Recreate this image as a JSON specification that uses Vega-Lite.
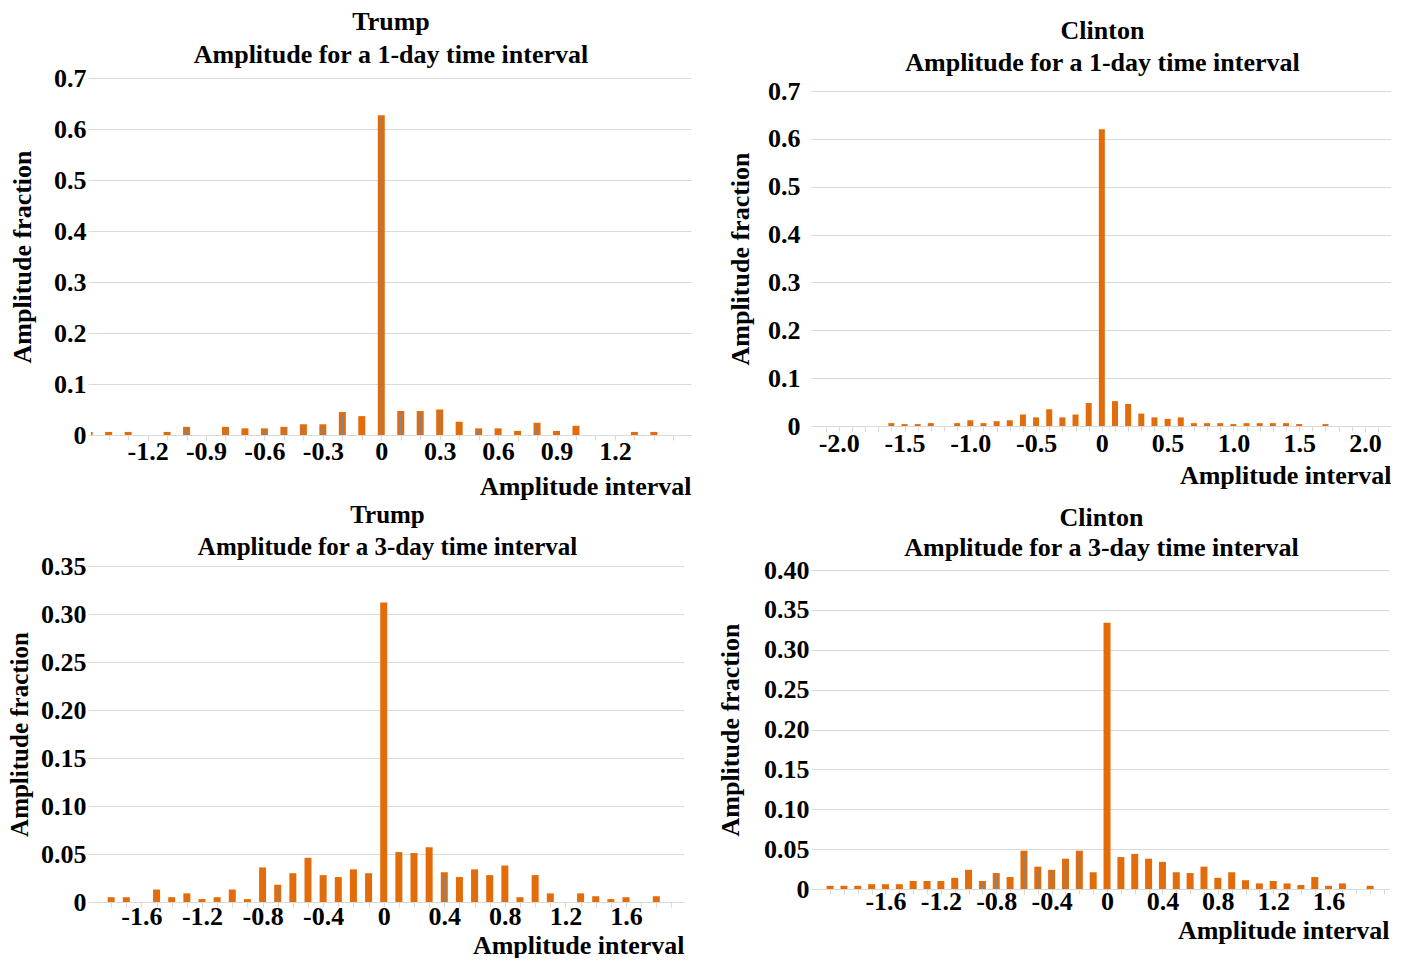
{
  "$schema": "https://vega.github.io/schema/vega-lite/v6.json",
  "background": "white",
  "padding": {"left": 7, "top": 0, "right": 0, "bottom": 0},
  "config": {
    "font": "Liberation Serif",
    "view": {"stroke": null},
    "title": {"font": "Liberation Serif", "fontSize": 26, "fontWeight": "bold", "color": "black", "subtitleFont": "Liberation Serif", "subtitleFontSize": 26, "subtitleFontWeight": "bold", "subtitleColor": "black", "anchor": "middle", "subtitlePadding": 6},
    "axis": {"labelFont": "Liberation Serif", "labelFontSize": 26, "labelFontWeight": "bold", "labelColor": "black", "titleFont": "Liberation Serif", "titleFontSize": 26, "titleFontWeight": "bold", "titleColor": "black", "gridColor": "#d9d9d9", "domainColor": "#d9d9d9", "tickColor": "#d9d9d9", "labelOverlap": false},
    "axisY": {"grid": true, "domain": false, "ticks": true, "tickSize": 3, "labelPadding": 2},
    "axisX": {"grid": false, "domain": true, "ticks": true, "tickSize": 5, "titleAnchor": "end"},
    "bar": {"color": "#E36C0A"}
  },
  "datasets": {
    "t1": [
      {"x": -1.5, "y": 0.006}, {"x": -1.4, "y": 0.006}, {"x": -1.3, "y": 0.006}, {"x": -1.1, "y": 0.006},
      {"x": -1.0, "y": 0.016, "s2": 0.012}, {"x": -0.8, "y": 0.016, "s2": 0.012}, {"x": -0.7, "y": 0.013}, {"x": -0.6, "y": 0.013, "s2": 0.009},
      {"x": -0.5, "y": 0.016, "s2": 0.012}, {"x": -0.4, "y": 0.021, "s2": 0.016}, {"x": -0.3, "y": 0.021, "s2": 0.016}, {"x": -0.2, "y": 0.045, "s2": 0.04},
      {"x": -0.1, "y": 0.037}, {"x": 0.0, "y": 0.627, "s2": 0.625}, {"x": 0.1, "y": 0.047, "s2": 0.042}, {"x": 0.2, "y": 0.047, "s2": 0.042},
      {"x": 0.3, "y": 0.05, "s2": 0.045}, {"x": 0.4, "y": 0.026}, {"x": 0.5, "y": 0.013, "s2": 0.009}, {"x": 0.6, "y": 0.013},
      {"x": 0.7, "y": 0.008}, {"x": 0.8, "y": 0.024, "s2": 0.02}, {"x": 0.9, "y": 0.008}, {"x": 1.0, "y": 0.018},
      {"x": 1.3, "y": 0.006}, {"x": 1.4, "y": 0.006}
    ],
    "c1": [
      {"x": -1.6, "y": 0.006}, {"x": -1.5, "y": 0.004}, {"x": -1.4, "y": 0.004}, {"x": -1.3, "y": 0.006},
      {"x": -1.1, "y": 0.006}, {"x": -1.0, "y": 0.012}, {"x": -0.9, "y": 0.006}, {"x": -0.8, "y": 0.01},
      {"x": -0.7, "y": 0.012}, {"x": -0.6, "y": 0.024}, {"x": -0.5, "y": 0.018}, {"x": -0.4, "y": 0.035},
      {"x": -0.3, "y": 0.018}, {"x": -0.2, "y": 0.024}, {"x": -0.1, "y": 0.048}, {"x": 0.0, "y": 0.62},
      {"x": 0.1, "y": 0.052}, {"x": 0.2, "y": 0.046}, {"x": 0.3, "y": 0.026}, {"x": 0.4, "y": 0.018},
      {"x": 0.5, "y": 0.015}, {"x": 0.6, "y": 0.018}, {"x": 0.7, "y": 0.006}, {"x": 0.8, "y": 0.006},
      {"x": 0.9, "y": 0.006}, {"x": 1.0, "y": 0.004}, {"x": 1.1, "y": 0.006}, {"x": 1.2, "y": 0.006},
      {"x": 1.3, "y": 0.006}, {"x": 1.4, "y": 0.006}, {"x": 1.5, "y": 0.004}, {"x": 1.7, "y": 0.004}
    ],
    "t3": [
      {"x": -1.8, "y": 0.005}, {"x": -1.7, "y": 0.005}, {"x": -1.5, "y": 0.013}, {"x": -1.4, "y": 0.005},
      {"x": -1.3, "y": 0.009}, {"x": -1.2, "y": 0.003}, {"x": -1.1, "y": 0.005}, {"x": -1.0, "y": 0.013},
      {"x": -0.9, "y": 0.003}, {"x": -0.8, "y": 0.036}, {"x": -0.7, "y": 0.018, "s2": 0.015}, {"x": -0.6, "y": 0.03},
      {"x": -0.5, "y": 0.046}, {"x": -0.4, "y": 0.028}, {"x": -0.3, "y": 0.026}, {"x": -0.2, "y": 0.034},
      {"x": -0.1, "y": 0.03}, {"x": 0.0, "y": 0.312}, {"x": 0.1, "y": 0.052}, {"x": 0.2, "y": 0.051},
      {"x": 0.3, "y": 0.057}, {"x": 0.4, "y": 0.031, "s2": 0.027}, {"x": 0.5, "y": 0.026}, {"x": 0.6, "y": 0.034},
      {"x": 0.7, "y": 0.028}, {"x": 0.8, "y": 0.038}, {"x": 0.9, "y": 0.005}, {"x": 1.0, "y": 0.028},
      {"x": 1.1, "y": 0.009}, {"x": 1.3, "y": 0.009}, {"x": 1.4, "y": 0.006}, {"x": 1.5, "y": 0.003},
      {"x": 1.6, "y": 0.005}, {"x": 1.8, "y": 0.006}
    ],
    "c3": [
      {"x": -2.0, "y": 0.004}, {"x": -1.9, "y": 0.004}, {"x": -1.8, "y": 0.004}, {"x": -1.7, "y": 0.006},
      {"x": -1.6, "y": 0.006}, {"x": -1.5, "y": 0.006}, {"x": -1.4, "y": 0.01}, {"x": -1.3, "y": 0.01},
      {"x": -1.2, "y": 0.01}, {"x": -1.1, "y": 0.014}, {"x": -1.0, "y": 0.024}, {"x": -0.9, "y": 0.01, "s2": 0.008},
      {"x": -0.8, "y": 0.02, "s2": 0.017}, {"x": -0.7, "y": 0.015}, {"x": -0.6, "y": 0.048, "s2": 0.045}, {"x": -0.5, "y": 0.028, "s2": 0.025},
      {"x": -0.4, "y": 0.024, "s2": 0.021}, {"x": -0.3, "y": 0.038, "s2": 0.035}, {"x": -0.2, "y": 0.048, "s2": 0.045}, {"x": -0.1, "y": 0.021},
      {"x": 0.0, "y": 0.334}, {"x": 0.1, "y": 0.04}, {"x": 0.2, "y": 0.044}, {"x": 0.3, "y": 0.038},
      {"x": 0.4, "y": 0.034}, {"x": 0.5, "y": 0.021}, {"x": 0.6, "y": 0.02}, {"x": 0.7, "y": 0.028},
      {"x": 0.8, "y": 0.014}, {"x": 0.9, "y": 0.021}, {"x": 1.0, "y": 0.011}, {"x": 1.1, "y": 0.007},
      {"x": 1.2, "y": 0.01}, {"x": 1.3, "y": 0.007}, {"x": 1.4, "y": 0.005}, {"x": 1.5, "y": 0.015},
      {"x": 1.6, "y": 0.004}, {"x": 1.7, "y": 0.007}, {"x": 1.9, "y": 0.004}
    ]
  },
  "hconcat": [
    {
      "spacing": 4,
      "vconcat": [
        {"data": {"values": []}, "width": 10, "height": 5, "mark": "point", "encoding": {}},
        {
          "title": {"text": "Trump", "subtitle": "Amplitude for a 1-day time interval", "offset": -3, "subtitlePadding": 7},
          "data": {"name": "t1"},
          "width": 600, "height": 357,
          "encoding": {
            "x": {"field": "x", "type": "quantitative", "scale": {"domain": [-1.465, 1.565], "nice": false, "zero": false},
                  "axis": {"title": "Amplitude interval", "values": [-1.4,-1.3,-1.2,-1.1,-1.0,-0.9,-0.8,-0.7,-0.6,-0.5,-0.4,-0.3,-0.2,-0.1,0,0.1,0.2,0.3,0.4,0.5,0.6,0.7,0.8,0.9,1.0,1.1,1.2,1.3,1.4,1.5],
                           "labelExpr": "abs(round(datum.value*10)) % 3 == 0 && abs(datum.value) < 1.3 ? (datum.value == 0 ? '0' : (datum.value < 0 ? '-' : '') + format(abs(datum.value), '.1f')) : ''",
                           "labelPadding": -2, "titlePadding": 9}}
          },
          "layer": [
            {
              "mark": {"type": "bar", "size": 7, "clip": true},
              "encoding": {
                "y": {"field": "y", "type": "quantitative", "scale": {"domain": [0, 0.7], "nice": false},
                      "axis": {"title": "Amplitude fraction", "values": [0,0.1,0.2,0.3,0.4,0.5,0.6,0.7], "labelExpr": "datum.value == 0 ? '0' : format(datum.value, '.1f')", "titlePadding": 18}}
              }
            },
            {
              "transform": [{"filter": "isValid(datum.s2)"}],
              "mark": {"type": "bar", "size": 1.5, "color": "#7a8794", "clip": true},
              "encoding": {
                "y": {"field": "s2", "type": "quantitative", "scale": {"domain": [0, 0.7], "nice": false},
                      "axis": {"title": "Amplitude fraction", "values": [0,0.1,0.2,0.3,0.4,0.5,0.6,0.7], "labelExpr": "datum.value == 0 ? '0' : format(datum.value, '.1f')", "titlePadding": 18}}
              }
            }
          ]
        },
        {
          "title": {"text": "Trump", "subtitle": "Amplitude for a 3-day time interval", "offset": -7, "subtitlePadding": 7, "fontSize": 25, "subtitleFontSize": 25},
          "data": {"name": "t3"},
          "width": 593, "height": 336,
          "encoding": {
            "x": {"field": "x", "type": "quantitative", "scale": {"domain": [-1.9, 1.95], "nice": false, "zero": false},
                  "axis": {"title": "Amplitude interval", "values": [-1.8,-1.7,-1.6,-1.5,-1.4,-1.3,-1.2,-1.1,-1.0,-0.9,-0.8,-0.7,-0.6,-0.5,-0.4,-0.3,-0.2,-0.1,0,0.1,0.2,0.3,0.4,0.5,0.6,0.7,0.8,0.9,1.0,1.1,1.2,1.3,1.4,1.5,1.6,1.7,1.8,1.9],
                           "labelExpr": "abs(round(datum.value*10)) % 4 == 0 && abs(datum.value) < 1.7 ? (datum.value == 0 ? '0' : (datum.value < 0 ? '-' : '') + format(abs(datum.value), '.1f')) : ''",
                           "labelPadding": -4, "titlePadding": 3}}
          },
          "layer": [
            {
              "mark": {"type": "bar", "size": 7, "clip": true},
              "encoding": {
                "y": {"field": "y", "type": "quantitative", "scale": {"domain": [0, 0.35], "nice": false},
                      "axis": {"title": "Amplitude fraction", "values": [0,0.05,0.1,0.15,0.2,0.25,0.3,0.35], "labelExpr": "datum.value == 0 ? '0' : format(datum.value, '.2f')", "titlePadding": 8, "titleFontSize": 25}}
              }
            },
            {
              "transform": [{"filter": "isValid(datum.s2)"}],
              "mark": {"type": "bar", "size": 1.5, "color": "#7a8794", "clip": true},
              "encoding": {
                "y": {"field": "s2", "type": "quantitative", "scale": {"domain": [0, 0.35], "nice": false},
                      "axis": {"title": "Amplitude fraction", "values": [0,0.05,0.1,0.15,0.2,0.25,0.3,0.35], "labelExpr": "datum.value == 0 ? '0' : format(datum.value, '.2f')", "titlePadding": 8, "titleFontSize": 25}}
              }
            }
          ]
        }
      ]
    },
    {
      "spacing": 17,
      "vconcat": [
        {"data": {"values": []}, "width": 10, "height": 1, "mark": "point", "encoding": {}},
        {
          "title": {"text": "Clinton", "subtitle": "Amplitude for a 1-day time interval", "offset": 2},
          "data": {"name": "c1"},
          "width": 577, "height": 335,
          "mark": {"type": "bar", "size": 6, "clip": true},
          "encoding": {
            "x": {"field": "x", "type": "quantitative", "scale": {"domain": [-2.15, 2.16], "nice": false, "zero": false},
                  "axis": {"title": "Amplitude interval", "values": [-2.1,-2.0,-1.9,-1.8,-1.7,-1.6,-1.5,-1.4,-1.3,-1.2,-1.1,-1.0,-0.9,-0.8,-0.7,-0.6,-0.5,-0.4,-0.3,-0.2,-0.1,0,0.1,0.2,0.3,0.4,0.5,0.6,0.7,0.8,0.9,1.0,1.1,1.2,1.3,1.4,1.5,1.6,1.7,1.8,1.9,2.0,2.1],
                           "labelExpr": "abs(round(datum.value*10)) % 5 == 0 && abs(datum.value) < 2.05 ? (datum.value == 0 ? '0' : (datum.value < 0 ? '-' : '') + format(abs(datum.value), '.1f')) : ''",
                           "labelPadding": -1, "titlePadding": 6}},
            "y": {"field": "y", "type": "quantitative", "scale": {"domain": [0, 0.7], "nice": false},
                  "axis": {"title": "Amplitude fraction", "values": [0,0.1,0.2,0.3,0.4,0.5,0.6,0.7], "labelExpr": "datum.value == 0 ? '0' : format(datum.value, '.1f')", "labelPadding": 11, "titlePadding": 14}}
          }
        },
        {
          "title": {"text": "Clinton", "subtitle": "Amplitude for a 3-day time interval", "offset": -4, "subtitlePadding": 4},
          "data": {"name": "c3"},
          "width": 575, "height": 319,
          "encoding": {
            "x": {"field": "x", "type": "quantitative", "scale": {"domain": [-2.08, 2.0], "nice": false, "zero": false},
                  "axis": {"title": "Amplitude interval", "values": [-2.0,-1.9,-1.8,-1.7,-1.6,-1.5,-1.4,-1.3,-1.2,-1.1,-1.0,-0.9,-0.8,-0.7,-0.6,-0.5,-0.4,-0.3,-0.2,-0.1,0,0.1,0.2,0.3,0.4,0.5,0.6,0.7,0.8,0.9,1.0,1.1,1.2,1.3,1.4,1.5,1.6,1.7,1.8,1.9,2.0],
                           "labelExpr": "abs(round(datum.value*10)) % 4 == 0 && abs(datum.value) < 1.7 ? (datum.value == 0 ? '0' : (datum.value < 0 ? '-' : '') + format(abs(datum.value), '.1f')) : ''",
                           "labelPadding": -6, "titlePadding": 3}}
          },
          "layer": [
            {
              "mark": {"type": "bar", "size": 7, "clip": true},
              "encoding": {
                "y": {"field": "y", "type": "quantitative", "scale": {"domain": [0, 0.4], "nice": false},
                      "axis": {"title": "Amplitude fraction", "values": [0,0.05,0.1,0.15,0.2,0.25,0.3,0.35,0.4], "labelExpr": "datum.value == 0 ? '0' : format(datum.value, '.2f')", "titlePadding": 20}}
              }
            },
            {
              "transform": [{"filter": "isValid(datum.s2)"}],
              "mark": {"type": "bar", "size": 1.5, "color": "#7a8794", "clip": true},
              "encoding": {
                "y": {"field": "s2", "type": "quantitative", "scale": {"domain": [0, 0.4], "nice": false},
                      "axis": {"title": "Amplitude fraction", "values": [0,0.05,0.1,0.15,0.2,0.25,0.3,0.35,0.4], "labelExpr": "datum.value == 0 ? '0' : format(datum.value, '.2f')", "titlePadding": 20}}
              }
            }
          ]
        }
      ]
    }
  ],
  "spacing": 26
}
